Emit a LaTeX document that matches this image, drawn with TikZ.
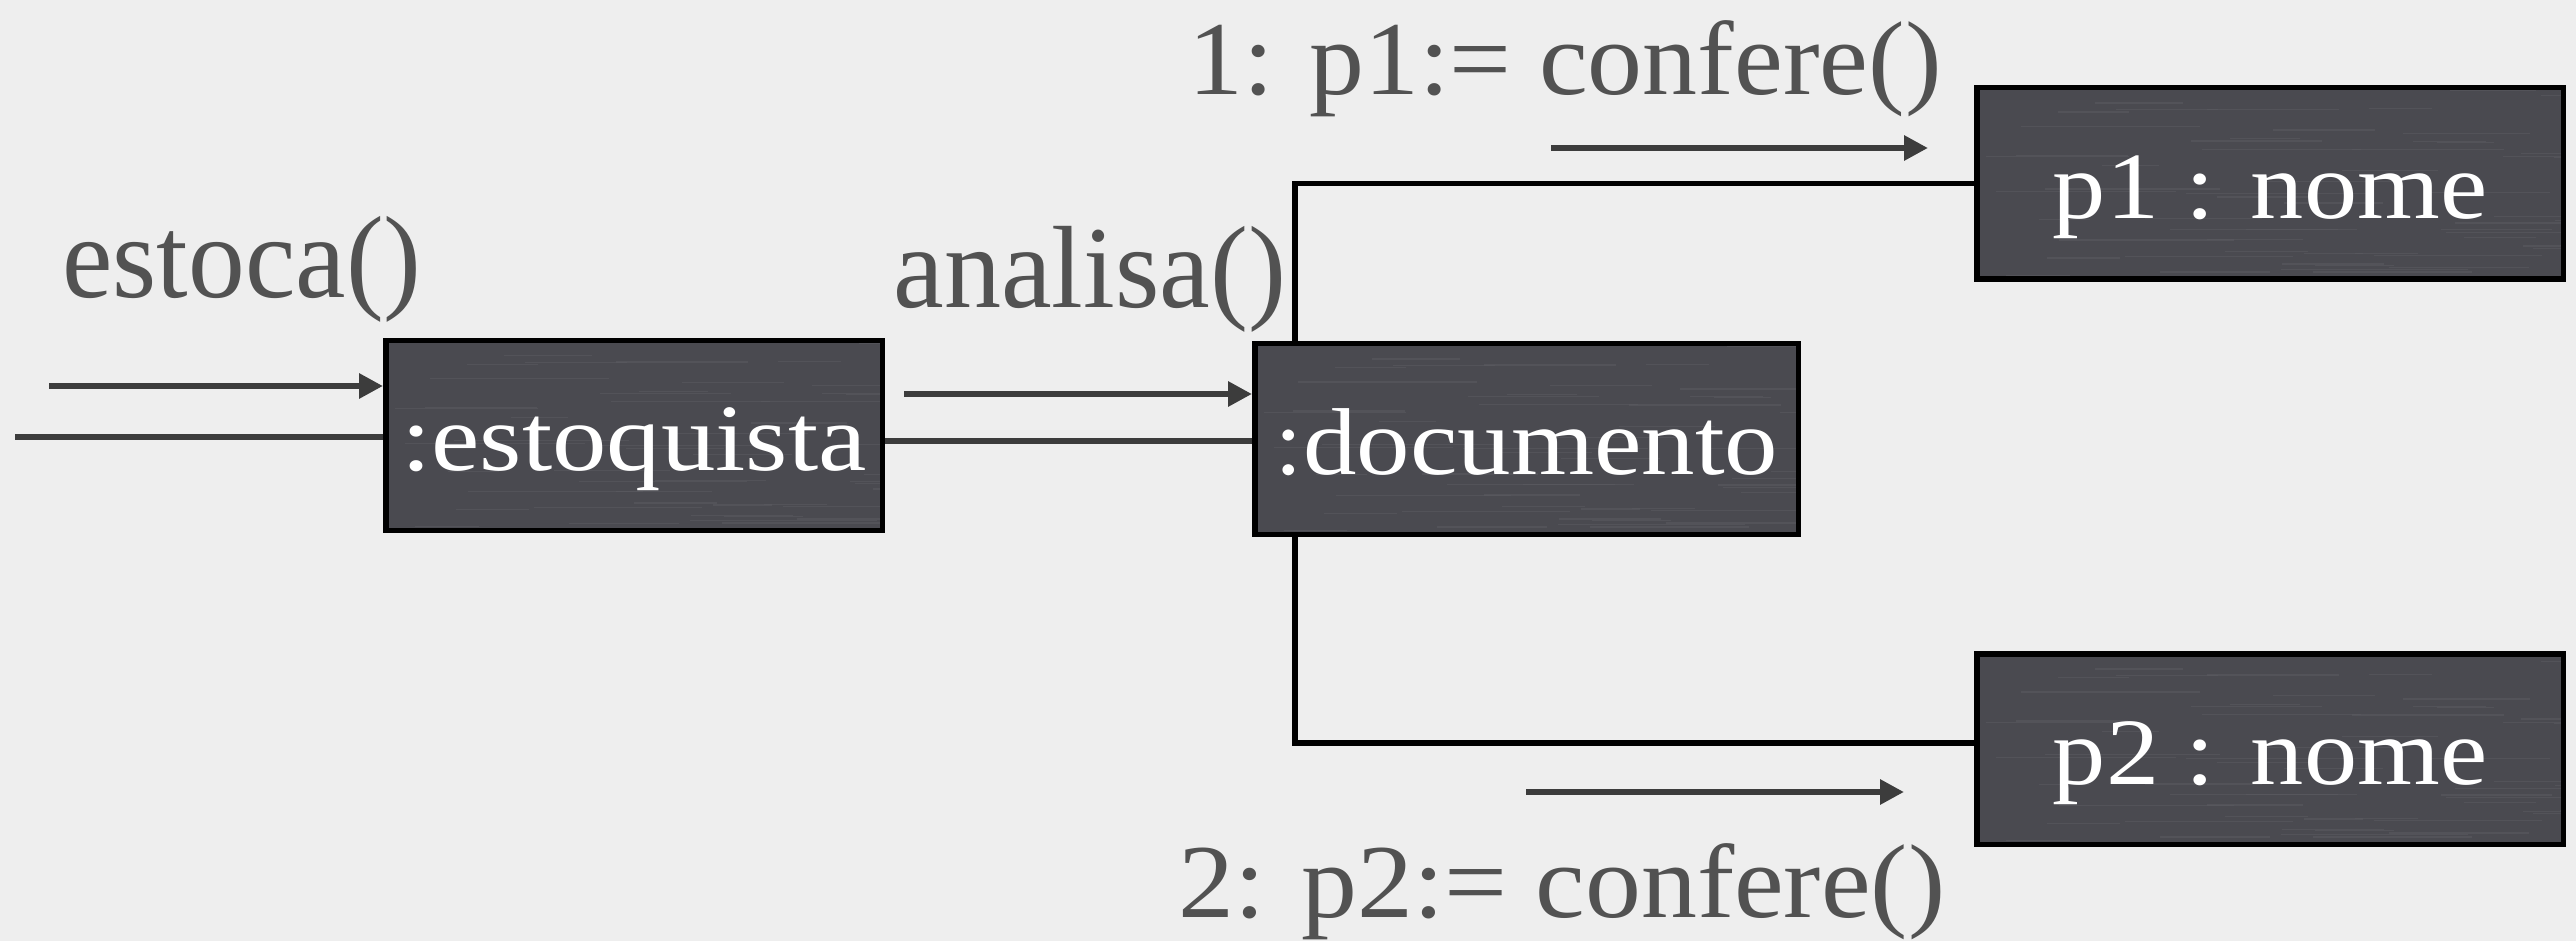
\documentclass[tikz,border=0pt]{standalone}
\usepackage{fontspec}
\setmainfont{Liberation Serif}
\usetikzlibrary{arrows.meta,calc}

\definecolor{paper}{RGB}{238,238,238}
\definecolor{boxfill}{RGB}{74,74,80}
\definecolor{streak}{RGB}{92,92,98}
\definecolor{ink}{RGB}{82,82,82}
\definecolor{wire}{RGB}{60,60,60}

% horizontal stretch of a text
\newcommand{\wide}[2]{\scalebox{#1}[1]{#2}}

\begin{document}
\begin{tikzpicture}[x=0.5pt,y=-0.5pt,
  brushed/.style={path picture={
    \pgfmathsetseed{7}
    \foreach \k in {1,...,60}{
      \pgfmathsetmacro{\yy}{rnd}
      \pgfmathsetmacro{\aa}{rnd}
      \pgfmathsetmacro{\bb}{0.2+0.6*rnd}
      \draw[streak, line width=0.6pt, opacity=0.55]
        ($(path picture bounding box.south west)!\yy!(path picture bounding box.north west)+(\aa*300pt,0pt)$)
        -- ++(\bb*120pt,0pt);
    }}},
  objbox/.style={draw=black, line width=2.75pt, fill=boxfill, text=white, inner sep=0pt,
    brushed, text height=40pt, text depth=5pt, font=\fontsize{47.5pt}{50pt}\selectfont},
  msg/.style={anchor=base west, inner sep=0pt, text=ink},
  big/.style={font=\fontsize{58.5pt}{60pt}\selectfont},
  mid/.style={font=\fontsize{52.5pt}{55pt}\selectfont},
  flow/.style={draw=wire, line width=3pt, -{Triangle[length=12pt,width=12pt]}},
  link/.style={draw=black, line width=2.75pt},
  glink/.style={draw=wire, line width=3pt}]

% page
\fill[paper] (0,0) rectangle (2577,941);
\useasboundingbox (0,0) rectangle (2577,941);

% objects
\node[objbox, minimum width=248.25pt, minimum height=94.75pt] (est) at (634,435.5) {\wide{1.145}{:estoquista}};
\node[objbox, minimum width=272.25pt, minimum height=95.25pt] (doc) at (1527,439) {\wide{1.125}{:documento}};
\node[objbox, minimum width=293.25pt, minimum height=95.75pt] (p1) at (2271,183.5) {\wide{1.12}{p1 : nome}};
\node[objbox, minimum width=293.25pt, minimum height=95.25pt] (p2) at (2271,749) {\wide{1.12}{p2 : nome}};

% links
\coordinate (inEnd) at (15,437);
\draw[glink] (inEnd) -- (inEnd -| est.west);
\coordinate (midRow) at (0,441);
\draw[glink] (est.east |- midRow) -- (doc.west |- midRow);
\coordinate (riser) at (1296,0);
\draw[link] (doc.north -| riser) |- (p1.west);
\draw[link] (doc.south -| riser) |- ([yshift=3pt]p2.west);

% messages
\coordinate (estIn) at (49,386);
\draw[flow] (estIn) -- (estIn -| est.west);
\coordinate (anIn) at (904,394);
\draw[flow] (anIn) -- (anIn -| doc.west);
\coordinate (c1s) at (1552,148);
\coordinate (c1e) at (1929,148);
\draw[flow] (c1s) -- (c1e);
\coordinate (c2s) at (1527,792);
\coordinate (c2e) at (1905,792);
\draw[flow] (c2s) -- (c2e);

% message labels
\node[msg, big] (lEst) at (62,298) {\wide{0.97}{estoca()}};
\node[msg, big] (lAn) at (893,307) {\wide{0.975}{analisa()}};
\node[msg, mid] (l1) at (1188,95) {\wide{1.046}{1: p1:= confere()}};
\node[msg, mid] (l2) at (1178,917) {\wide{1.065}{2: p2:= confere()}};
\end{tikzpicture}
\end{document}
